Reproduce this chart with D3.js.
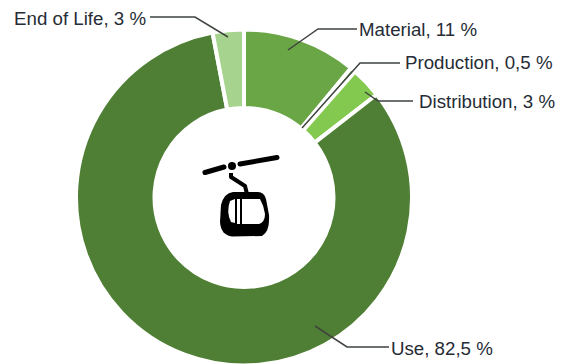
<!DOCTYPE html>
<html>
<head>
<meta charset="utf-8">
<script src="https://cdn.jsdelivr.net/npm/d3@7"></script>
<style>
html,body{margin:0;padding:0;background:#fff;overflow:hidden}
text{font-family:"Liberation Sans",Arial,sans-serif;font-size:18.7px;fill:#262c36}
</style>
</head>
<body>
<svg id="chart" width="563" height="364"></svg>
<script>
// Life-cycle phase shares, in percent, clockwise from twelve o'clock
const phases = ["Material", "Production", "Distribution", "Use", "End of Life"];
const shares = [11, 0.5, 3, 82.5, 3];
const shareLabels = ["11 %", "0,5 %", "3 %", "82,5 %", "3 %"];
const sliceColors = ["#6aa646", "#5f9a40", "#84c94f", "#4f7f34", "#a6d48e"];

const svg = d3.select("#chart");
const cx = 244, cy = 197.5, outer = 168, inner = 89.5;
const ring = svg.append("g").attr("transform", `translate(${cx},${cy})`);

const pie = d3.pie().sort(null).value(d => d)(shares);
const arc = d3.arc().innerRadius(inner).outerRadius(outer);

ring.selectAll("path").data(pie).join("path")
  .attr("d", arc)
  .attr("fill", (d, i) => sliceColors[i])
  .attr("stroke", "#fff")
  .attr("stroke-width", 4);

// Leader lines: start inside the slice, elbow, then run to the label
const leaders = [
  {from: [288, 50], knee: [318, 29], to: [357, 29], tx: 359, ty: 36, anchor: "start"},
  {from: [302, 128], knee: [360, 63], to: [400, 63], tx: 405, ty: 69, anchor: "start"},
  {from: [365, 92], knee: [378, 101], to: [413, 101], tx: 419, ty: 108, anchor: "start"},
  {from: [315, 326], knee: [347, 347], to: [389, 347], tx: 391, ty: 355, anchor: "start"},
  {from: [228, 37], knee: [195, 17], to: [150, 17], tx: 146, ty: 25, anchor: "end"}
];

svg.append("g").selectAll("path").data(leaders).join("path")
  .attr("d", d => d3.line()([d.from, d.knee, d.to]))
  .attr("fill", "none")
  .attr("stroke", "#3f443f")
  .attr("stroke-width", 1.5);

svg.append("g").selectAll("text").data(leaders).join("text")
  .attr("x", d => d.tx)
  .attr("y", d => d.ty)
  .attr("text-anchor", d => d.anchor)
  .text((d, i) => `${phases[i]}, ${shareLabels[i]}`);

// Cable car pictogram in the hole of the ring
const icon = svg.append("g").attr("fill", "none").attr("stroke", "#000").attr("stroke-linecap", "round");
icon.append("path").attr("d", "M205,172.5L224,167").attr("stroke-width", 5);
icon.append("path").attr("d", "M240,164L277,157.5").attr("stroke-width", 5);
icon.append("circle").attr("cx", 232).attr("cy", 166).attr("r", 4).attr("fill", "#000").attr("stroke", "none");
icon.append("path").attr("d", "M231,173L231,177L245,186L247,194").attr("stroke-width", 4).attr("stroke-linecap", "butt").attr("stroke-linejoin", "round");
icon.append("path")
  .attr("d", "M233,192L258,192Q264,192 266,199L269,215Q270,232 262,236L232,236.5Q221,235 220,222L221,205Q224,193 233,192Z")
  .attr("fill", "#000").attr("stroke", "none");
icon.append("path")
  .attr("d", "M242,199L260,199Q264,206 265,214Q265,222 259,224L242,224Z")
  .attr("fill", "#fff").attr("stroke", "none");
icon.append("path")
  .attr("d", "M230,201L235,199L235,223L231,222Q226,212 230,201Z")
  .attr("fill", "#fff").attr("stroke", "none");
icon.append("path").attr("d", "M237,199L240,199L240,224L237,224Z").attr("fill", "#fff").attr("stroke", "none");
</script>
</body>
</html>
